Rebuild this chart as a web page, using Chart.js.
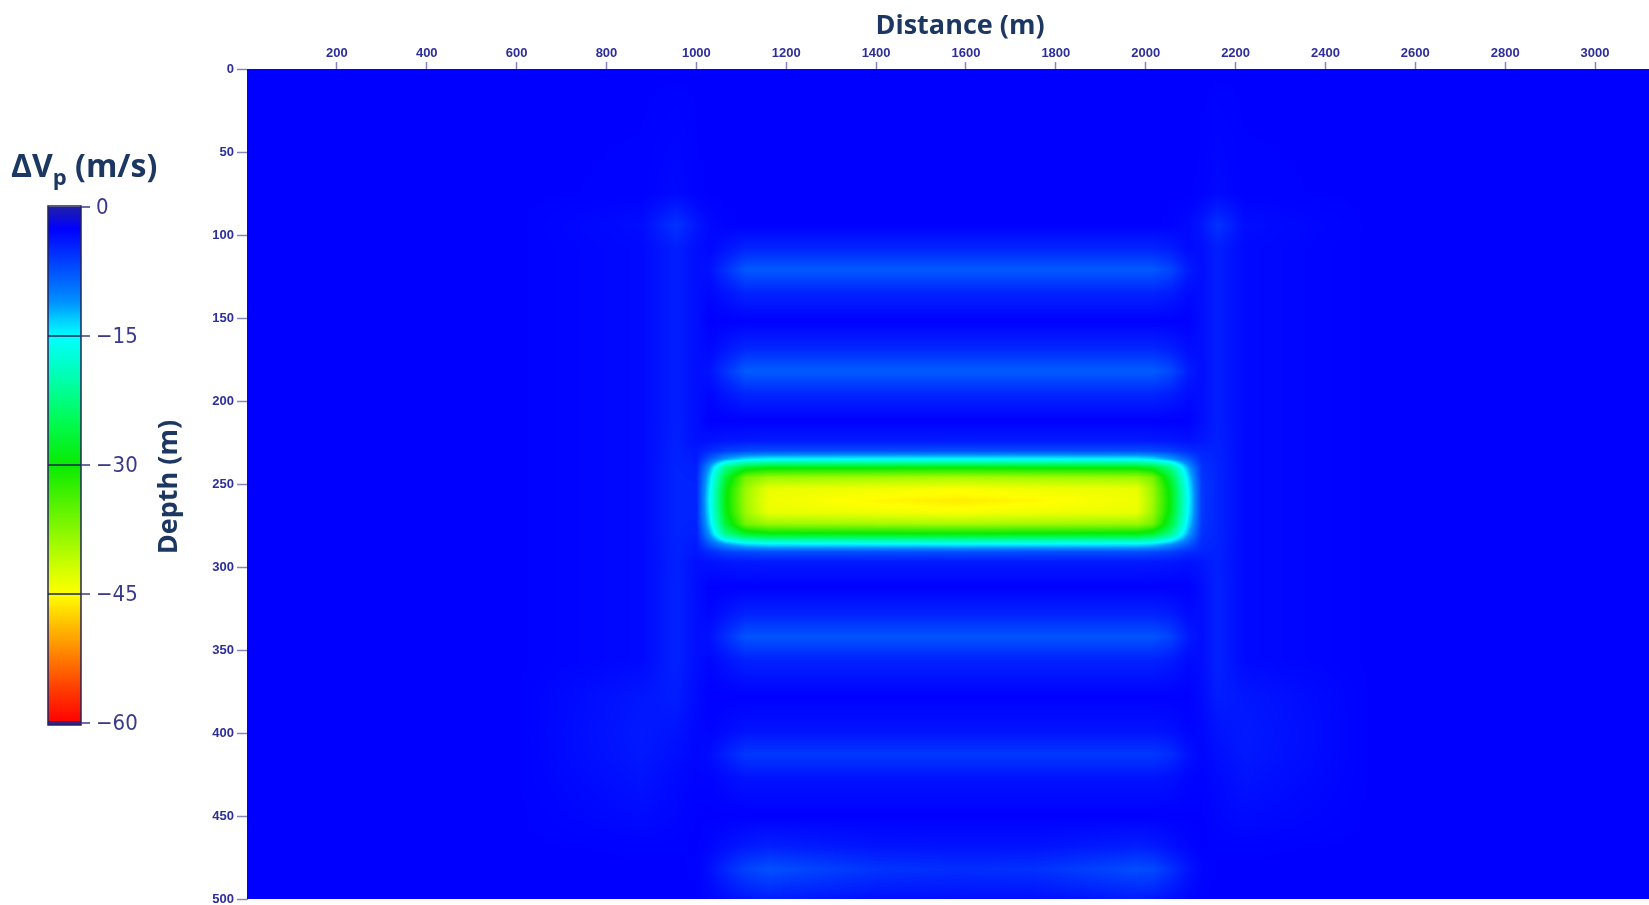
<!DOCTYPE html>
<html>
<head>
<meta charset="utf-8">
<title>ΔVp section</title>
<script src="https://cdn.jsdelivr.net/npm/chart.js@4.4.1/dist/chart.umd.min.js"></script>
<style>
  html, body { margin: 0; padding: 0; background: #fff; }
  #wrap { position: relative; width: 1649px; height: 905px; }
</style>
</head>
<body>
<div id="wrap"><canvas id="section"></canvas></div>
<script>
// grid nodes of the section (distance in m, depth in m), dVp in m/s
const distances = [0, 600, 880, 955, 1000, 1030, 1065, 1110, 1160, 1400, 1580, 1750, 1980, 2015, 2055, 2095, 2125, 2160, 2220, 2500, 3120];
const depths = [0, 75, 94, 108, 121, 135, 152, 168, 182, 196, 212, 224, 230, 235, 240, 246, 253, 260, 267, 274, 280, 286, 291, 297, 312, 328, 342, 356, 378, 399, 413, 427, 450, 468, 482, 500];
const dvp = [
  [-2.5,-2.5,-2.5,-2.5,-2.5,-2.5,-2.5,-2.5,-2.5,-2.5,-2.5,-2.5,-2.5,-2.5,-2.5,-2.5,-2.5,-2.5,-2.5,-2.5,-2.5],
  [-2.5,-2.5,-2.6,-3.0,-2.6,-2.5,-2.5,-2.5,-2.5,-2.5,-2.5,-2.5,-2.5,-2.5,-2.5,-2.5,-2.6,-3.0,-2.6,-2.5,-2.5],
  [-2.5,-2.5,-3.2,-5.5,-3.8,-3.0,-2.6,-2.5,-2.5,-2.5,-2.5,-2.5,-2.5,-2.5,-2.6,-3.0,-3.8,-5.5,-3.2,-2.5,-2.5],
  [-2.5,-2.5,-3.0,-4.3,-3.3,-2.9,-3.6,-4.6,-4.6,-4.6,-4.6,-4.6,-4.6,-4.6,-4.1,-3.1,-3.3,-4.3,-3.0,-2.5,-2.5],
  [-2.5,-2.5,-3.0,-4.3,-3.3,-3.5,-5.4,-7.8,-7.8,-7.8,-7.8,-7.8,-7.8,-7.8,-6.7,-4.1,-3.3,-4.3,-3.0,-2.5,-2.5],
  [-2.5,-2.5,-3.0,-4.3,-3.3,-2.9,-3.6,-4.6,-4.6,-4.6,-4.6,-4.6,-4.6,-4.6,-4.1,-3.1,-3.3,-4.3,-3.0,-2.5,-2.5],
  [-2.5,-2.5,-3.0,-4.3,-3.3,-2.5,-2.5,-2.5,-2.5,-2.5,-2.5,-2.5,-2.5,-2.5,-2.5,-2.5,-3.3,-4.3,-3.0,-2.5,-2.5],
  [-2.5,-2.5,-3.0,-4.3,-3.3,-2.9,-3.7,-4.7,-4.7,-4.7,-4.7,-4.7,-4.7,-4.7,-4.2,-3.2,-3.3,-4.3,-3.0,-2.5,-2.5],
  [-2.5,-2.5,-3.0,-4.3,-3.3,-3.6,-5.5,-8.0,-8.0,-8.0,-8.0,-8.0,-8.0,-8.0,-6.9,-4.2,-3.3,-4.3,-3.0,-2.5,-2.5],
  [-2.5,-2.5,-3.0,-4.3,-3.3,-2.9,-3.7,-4.7,-4.7,-4.7,-4.7,-4.7,-4.7,-4.7,-4.2,-3.2,-3.3,-4.3,-3.0,-2.5,-2.5],
  [-2.5,-2.5,-3.0,-4.3,-3.3,-2.5,-2.5,-2.5,-2.5,-2.5,-2.5,-2.5,-2.5,-2.5,-2.5,-2.5,-3.3,-4.3,-3.0,-2.5,-2.5],
  [-2.5,-2.5,-3.0,-4.4,-3.4,-3.5,-3.8,-3.9,-4.0,-4.0,-4.0,-4.0,-4.0,-3.9,-3.8,-3.5,-3.8,-4.4,-3.0,-2.5,-2.5],
  [-2.5,-2.5,-3.0,-4.5,-3.8,-5.0,-6.2,-6.8,-7.0,-7.0,-7.1,-7.0,-7.0,-6.8,-6.2,-5.0,-4.6,-4.5,-3.0,-2.5,-2.5],
  [-2.5,-2.5,-3.0,-4.5,-4.0,-8.0,-11.5,-14.0,-14.8,-15.0,-15.1,-15.0,-14.8,-14.0,-11.5,-8.0,-5.0,-4.5,-3.0,-2.5,-2.5],
  [-2.5,-2.5,-3.0,-4.6,-4.3,-11.5,-22.0,-27.3,-28.9,-29.2,-29.4,-29.2,-28.9,-27.3,-22.0,-11.5,-5.4,-4.6,-3.0,-2.5,-2.5],
  [-2.5,-2.5,-3.0,-4.6,-4.5,-13.5,-26.5,-36.5,-38.7,-39.1,-39.5,-39.1,-38.7,-36.5,-26.5,-13.5,-5.6,-4.6,-3.0,-2.5,-2.5],
  [-2.5,-2.5,-3.0,-4.6,-4.6,-14.6,-28.7,-38.7,-43.5,-44.0,-44.6,-44.0,-43.5,-38.7,-28.7,-14.6,-5.8,-4.6,-3.0,-2.5,-2.5],
  [-2.5,-2.5,-3.0,-4.6,-4.6,-15.0,-29.2,-39.1,-44.0,-45.4,-46.0,-45.4,-44.0,-39.1,-29.2,-15.0,-5.8,-4.6,-3.0,-2.5,-2.5],
  [-2.5,-2.5,-3.0,-4.6,-4.6,-14.6,-28.7,-38.7,-43.5,-44.0,-44.6,-44.0,-43.5,-38.7,-28.7,-14.6,-5.8,-4.6,-3.0,-2.5,-2.5],
  [-2.5,-2.5,-3.0,-4.6,-4.5,-13.5,-26.5,-36.5,-38.7,-39.1,-39.5,-39.1,-38.7,-36.5,-26.5,-13.5,-5.6,-4.6,-3.0,-2.5,-2.5],
  [-2.5,-2.5,-3.0,-4.6,-4.3,-11.5,-22.0,-27.3,-28.9,-29.2,-29.4,-29.2,-28.9,-27.3,-22.0,-11.5,-5.4,-4.6,-3.0,-2.5,-2.5],
  [-2.5,-2.5,-3.0,-4.5,-4.0,-8.0,-11.5,-14.0,-14.8,-15.0,-15.1,-15.0,-14.8,-14.0,-11.5,-8.0,-5.0,-4.5,-3.0,-2.5,-2.5],
  [-2.5,-2.5,-3.0,-4.5,-3.8,-5.0,-6.2,-6.8,-7.0,-7.0,-7.1,-7.0,-7.0,-6.8,-6.2,-5.0,-4.6,-4.5,-3.0,-2.5,-2.5],
  [-2.5,-2.5,-3.0,-4.4,-3.4,-3.5,-3.8,-3.9,-4.0,-4.0,-4.0,-4.0,-4.0,-3.9,-3.8,-3.5,-3.8,-4.4,-3.0,-2.5,-2.5],
  [-2.5,-2.5,-3.0,-4.5,-3.3,-2.5,-2.5,-2.5,-2.5,-2.5,-2.5,-2.5,-2.5,-2.5,-2.5,-2.5,-3.3,-4.5,-3.0,-2.5,-2.5],
  [-2.5,-2.5,-3.0,-4.5,-3.3,-2.9,-3.6,-4.5,-4.5,-4.5,-4.5,-4.5,-4.5,-4.5,-4.1,-3.1,-3.3,-4.5,-3.0,-2.5,-2.5],
  [-2.5,-2.5,-3.0,-4.5,-3.3,-3.5,-5.2,-7.5,-7.5,-7.5,-7.5,-7.5,-7.5,-7.5,-6.5,-4.0,-3.3,-4.5,-3.0,-2.5,-2.5],
  [-2.5,-2.5,-3.0,-4.5,-3.3,-2.9,-3.6,-4.5,-4.5,-4.5,-4.5,-4.5,-4.5,-4.5,-4.1,-3.1,-3.3,-4.5,-3.0,-2.5,-2.5],
  [-2.5,-2.5,-3.8,-4.2,-3.1,-2.5,-2.5,-2.5,-2.5,-2.5,-2.5,-2.5,-2.5,-2.5,-2.5,-2.5,-3.1,-4.2,-3.8,-2.5,-2.5],
  [-2.5,-2.5,-4.0,-3.6,-2.9,-2.7,-3.1,-3.6,-3.6,-3.6,-3.6,-3.6,-3.6,-3.6,-3.4,-2.8,-2.9,-3.6,-4.0,-2.5,-2.5],
  [-2.5,-2.5,-3.9,-3.3,-2.8,-3.2,-4.3,-5.8,-5.8,-5.8,-5.8,-5.8,-5.8,-5.8,-5.1,-3.5,-2.8,-3.3,-3.9,-2.5,-2.5],
  [-2.5,-2.5,-3.6,-3.0,-2.7,-2.7,-3.1,-3.6,-3.6,-3.6,-3.6,-3.6,-3.6,-3.6,-3.4,-2.8,-2.7,-3.0,-3.6,-2.5,-2.5],
  [-2.5,-2.5,-3.1,-2.8,-2.5,-2.5,-2.5,-2.5,-2.5,-2.5,-2.5,-2.5,-2.5,-2.5,-2.5,-2.5,-2.5,-2.8,-3.1,-2.5,-2.5],
  [-2.5,-2.5,-2.6,-2.6,-2.5,-2.8,-3.3,-3.9,-4.3,-3.6,-3.5,-3.5,-4.2,-4.0,-3.4,-2.8,-2.5,-2.6,-2.6,-2.5,-2.5],
  [-2.5,-2.5,-2.5,-2.5,-2.6,-3.4,-4.8,-6.5,-7.3,-5.6,-5.2,-5.4,-7.1,-6.9,-5.4,-3.7,-2.8,-2.5,-2.5,-2.5,-2.5],
  [-2.5,-2.5,-2.5,-2.5,-2.5,-2.8,-3.2,-3.8,-4.2,-3.4,-3.3,-3.3,-4.1,-3.9,-3.4,-2.8,-2.5,-2.5,-2.5,-2.5,-2.5]
];

const xTicks = [200, 400, 600, 800, 1000, 1200, 1400, 1600, 1800, 2000, 2200, 2400, 2600, 2800, 3000];
const yTicks = [0, 50, 100, 150, 200, 250, 300, 350, 400, 450, 500];
const colorbarTicks = [0, -15, -30, -45, -60];

// colour scale (value -> rgb)
const cmapStops = [0, -2.5, -7, -11, -13, -15, -20, -25, -30, -36, -42, -45, -48, -52, -56, -60];
const cmapColors = [
  [30, 30, 170], [0, 0, 255], [0, 75, 255], [0, 145, 255], [0, 205, 255], [0, 255, 255],
  [0, 255, 170], [0, 250, 80], [10, 235, 0], [110, 245, 0], [210, 255, 0], [255, 255, 0],
  [255, 200, 0], [255, 130, 0], [255, 60, 0], [255, 0, 0]
];

function colorFor(v) {
  if (v >= cmapStops[0]) return cmapColors[0];
  const last = cmapStops.length - 1;
  if (v <= cmapStops[last]) return cmapColors[last];
  let k = 0;
  while (v < cmapStops[k + 1]) k++;
  const t = (cmapStops[k] - v) / (cmapStops[k] - cmapStops[k + 1]);
  const a = cmapColors[k], b = cmapColors[k + 1];
  return [a[0] + (b[0] - a[0]) * t, a[1] + (b[1] - a[1]) * t, a[2] + (b[2] - a[2]) * t];
}

// lookup table, 0.1 m/s steps
const lut = [];
for (let i = 0; i <= 600; i++) lut.push(colorFor(-i / 10));

function locate(nodes, v) {
  let k = 0;
  while (k < nodes.length - 2 && v > nodes[k + 1]) k++;
  let t = (v - nodes[k]) / (nodes[k + 1] - nodes[k]);
  t = Math.max(0, Math.min(1, t));
  return [k, t];
}

const heatmapPlugin = {
  id: 'heatmap',
  beforeDatasetsDraw(chart) {
    const { ctx, chartArea: a, scales } = chart;
    const w = Math.round(a.right - a.left), h = Math.round(a.bottom - a.top);
    const off = document.createElement('canvas');
    off.width = w; off.height = h;
    const octx = off.getContext('2d');
    const img = octx.createImageData(w, h);
    const ci = new Int32Array(w), ct = new Float32Array(w);
    for (let i = 0; i < w; i++) {
      const [k, t] = locate(distances, scales.x.getValueForPixel(a.left + i + 0.5));
      ci[i] = k; ct[i] = t;
    }
    for (let j = 0; j < h; j++) {
      const [r, s] = locate(depths, scales.y.getValueForPixel(a.top + j + 0.5));
      const r0 = dvp[r], r1 = dvp[r + 1];
      for (let i = 0; i < w; i++) {
        const c = ci[i], t = ct[i];
        const top = r0[c] + (r0[c + 1] - r0[c]) * t;
        const bot = r1[c] + (r1[c + 1] - r1[c]) * t;
        const v = top + (bot - top) * s;
        let idx = Math.round(-v * 10);
        if (idx < 0) idx = 0; if (idx > 600) idx = 600;
        const col = lut[idx];
        const p = (j * w + i) * 4;
        img.data[p] = col[0]; img.data[p + 1] = col[1]; img.data[p + 2] = col[2]; img.data[p + 3] = 255;
      }
    }
    octx.putImageData(img, 0, 0);
    ctx.save();
    ctx.drawImage(off, a.left, a.top, w, h);
    ctx.restore();
  }
};

const titleColor = '#1c3862';
const bar = { left: 48, right: 81, top: 207, bottom: 723 };

const legendPlugin = {
  id: 'legendBar',
  afterDraw(chart) {
    const ctx = chart.ctx;
    const a = chart.chartArea;
    const vmax = colorbarTicks[0], vmin = colorbarTicks[colorbarTicks.length - 1];
    const yFor = v => bar.top + (vmax - v) / (vmax - vmin) * (bar.bottom - bar.top);
    ctx.save();
    // colour strip
    for (let y = bar.top; y < bar.bottom; y++) {
      const v = vmax - (y - bar.top) / (bar.bottom - bar.top) * (vmax - vmin);
      const c = colorFor(v);
      ctx.fillStyle = 'rgb(' + Math.round(c[0]) + ',' + Math.round(c[1]) + ',' + Math.round(c[2]) + ')';
      ctx.fillRect(bar.left, y, bar.right - bar.left, 1);
    }
    ctx.fillStyle = '#3b1d8c';
    ctx.fillRect(bar.left, bar.bottom - 2, bar.right - bar.left, 4);
    ctx.strokeStyle = '#23235f';
    ctx.lineWidth = 1.5;
    ctx.strokeRect(bar.left, bar.top - 1, bar.right - bar.left, bar.bottom - bar.top + 3);
    // ticks and labels
    ctx.font = '22px "Liberation Sans Narrow", "DejaVu Sans Condensed", sans-serif';
    ctx.textBaseline = 'middle';
    ctx.textAlign = 'left';
    colorbarTicks.forEach(v => {
      const y = yFor(v);
      if (v !== vmax && v !== vmin) {
        ctx.strokeStyle = '#1b2450';
        ctx.beginPath(); ctx.moveTo(bar.left, y); ctx.lineTo(bar.right, y); ctx.stroke();
      }
      ctx.strokeStyle = '#3d3d8c';
      ctx.beginPath(); ctx.moveTo(bar.right, y); ctx.lineTo(bar.right + 9, y); ctx.stroke();
      ctx.fillStyle = '#3a3a8c';
      ctx.fillText(v === 0 ? '0' : '\u2212' + Math.abs(v), bar.right + 15, y + 1);
    });

    // colour bar title: dVp (m/s)
    ctx.fillStyle = titleColor;
    ctx.textBaseline = 'alphabetic';
    ctx.font = 'bold 32px "Open Sans", sans-serif';
    let x = 11;
    ctx.fillText('\u0394V', x, 177);
    x += ctx.measureText('\u0394V').width;
    ctx.font = 'bold 22px "Open Sans", sans-serif';
    ctx.fillText('p', x, 185);
    x += ctx.measureText('p').width;
    ctx.font = 'bold 32px "Open Sans", sans-serif';
    ctx.fillText(' (m/s)', x, 177);

    // axis titles
    ctx.font = 'bold 27px "Open Sans", sans-serif';
    ctx.textAlign = 'center';
    ctx.fillText('Distance (m)', 960, 34);
    ctx.translate(177, (a.top + a.bottom) / 2 + 3);
    ctx.rotate(-Math.PI / 2);
    ctx.fillText('Depth (m)', 0, 0);
    ctx.restore();
  }
};

const cells = depths.flatMap((d, r) => distances.map((x, c) => ({ x: x, y: d, v: dvp[r][c] })));

const tickFont = { family: '"Liberation Sans", Arial, sans-serif', weight: 'bold', size: 13 };
const tickColor = '#2d2d9c';

new Chart(document.getElementById('section'), {
  type: 'scatter',
  data: {
    datasets: [{
      label: 'dVp',
      data: cells,
      pointRadius: 0,
      pointHoverRadius: 0
    }]
  },
  options: {
    responsive: true,
    maintainAspectRatio: false,
    devicePixelRatio: 1,
    animation: false,
    events: [],
    layout: { padding: { top: 0, left: 0, right: 0, bottom: 0 } },
    plugins: {
      legend: { display: false },
      tooltip: { enabled: false },
      title: { display: false }
    },
    scales: {
      x: {
        type: 'linear',
        position: 'top',
        min: 0,
        max: 3120,
        afterBuildTicks: s => { s.ticks = xTicks.map(v => ({ value: v })); },
        afterFit: s => { s.height = 69; s.paddingLeft = 0; s.paddingRight = 0; },
        ticks: {
          callback: v => String(v),
          font: tickFont,
          color: tickColor,
          padding: 1,
          maxRotation: 0,
          autoSkip: false
        },
        grid: { drawOnChartArea: false, drawTicks: true, tickLength: 7, tickColor: '#8585bd', tickWidth: 1.5 },
        border: { display: true, color: '#8c8cc8', width: 1 }
      },
      y: {
        type: 'linear',
        reverse: true,
        min: 0,
        max: 500,
        afterBuildTicks: s => { s.ticks = yTicks.map(v => ({ value: v })); },
        afterFit: s => { s.width = 247; s.paddingTop = 0; s.paddingBottom = 6; },
        ticks: {
          callback: v => String(v),
          font: tickFont,
          color: tickColor,
          padding: 3,
          autoSkip: false
        },
        grid: { drawOnChartArea: false, drawTicks: true, tickLength: 10, tickColor: '#8585bd', tickWidth: 1.5 },
        border: { display: true, color: '#8c8cc8', width: 1 }
      }
    }
  },
  plugins: [heatmapPlugin, legendPlugin]
});
</script>
</body>
</html>
